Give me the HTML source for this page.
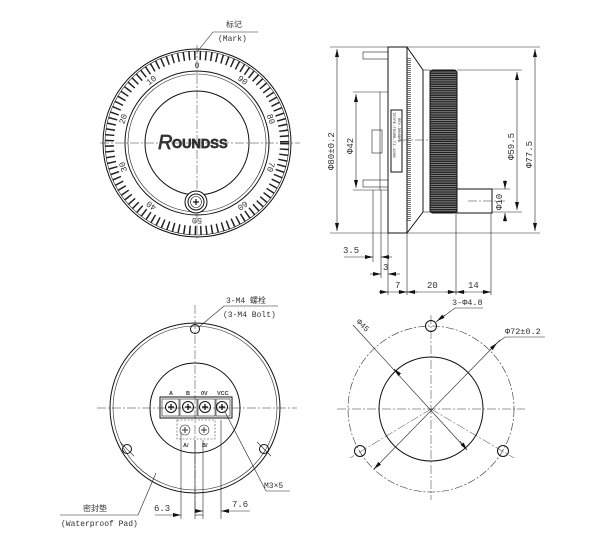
<!DOCTYPE html>
<html><head><meta charset="utf-8"><style>
html,body{margin:0;padding:0;background:#fff}
svg{display:block;font-family:"Liberation Mono","Noto Sans CJK SC",monospace;font-size:8px}
text{fill:#333}
.l{stroke:#111;fill:none;stroke-width:1}
.t{stroke:#222;fill:none;stroke-width:0.6}
.c{stroke:#333;fill:none;stroke-width:0.5;stroke-dasharray:9 2 2 2}
</style></head><body>
<svg width="603" height="551" viewBox="0 0 603 551" xmlns="http://www.w3.org/2000/svg">
<defs>
<marker id="a" markerWidth="8" markerHeight="4" refX="8" refY="2" orient="auto-start-reverse" markerUnits="userSpaceOnUse"><path d="M0,0 L8,2 L0,4z" fill="#111"/></marker>
<pattern id="kn" width="4" height="2.2" patternUnits="userSpaceOnUse"><rect width="4" height="2.2" fill="#222"/><rect y="1.4" width="4" height="0.6" fill="#bbb"/></pattern>
</defs>

<g>
<circle cx="197" cy="143" r="94" class="l"/>
<circle cx="197" cy="143" r="92" class="t"/>
<circle cx="197" cy="143" r="87.5" fill="none" stroke="#222" stroke-width="9" stroke-dasharray="1.5 4.03"/>
<circle cx="197" cy="143" r="72" class="l"/>
<circle cx="197" cy="143" r="69" class="t"/>
<circle cx="197" cy="143" r="52" class="l"/>
<line x1="100" y1="143" x2="300" y2="143" class="c"/>
<line x1="197" y1="45" x2="197" y2="240" class="c"/>
<g font-size="8.5">
<text x="197" y="68" text-anchor="middle" transform="rotate(0 197 143)">0</text>
<text x="197" y="68" text-anchor="middle" transform="rotate(-36 197 143)">10</text>
<text x="197" y="68" text-anchor="middle" transform="rotate(-72 197 143)">20</text>
<text x="197" y="68" text-anchor="middle" transform="rotate(-108 197 143)">30</text>
<text x="197" y="68" text-anchor="middle" transform="rotate(-144 197 143)">40</text>
<text x="197" y="68" text-anchor="middle" transform="rotate(180 197 143)">50</text>
<text x="197" y="68" text-anchor="middle" transform="rotate(144 197 143)">60</text>
<text x="197" y="68" text-anchor="middle" transform="rotate(108 197 143)">70</text>
<text x="197" y="68" text-anchor="middle" transform="rotate(72 197 143)">80</text>
<text x="197" y="68" text-anchor="middle" transform="rotate(36 197 143)">90</text>
</g>
<text x="158" y="149" font-family="Liberation Sans,sans-serif" font-size="20" fill="#fff" stroke="#333" stroke-width="0.7" font-style="italic">R</text>
<text x="172" y="148" font-family="Liberation Sans,sans-serif" font-size="13" fill="#fff" stroke="#333" stroke-width="0.7" font-weight="bold">OUNDSS</text>
<circle cx="196" cy="202" r="11" fill="#fff" stroke="#111"/>
<circle cx="196" cy="202" r="8" class="l"/>
<circle cx="196" cy="202" r="5.5" class="t"/>
<path d="M193,202h6M196,199v6" stroke="#111" stroke-width="1.2"/>
<polyline points="197,52 213,32 258,32" class="t"/>
<text x="226" y="27">标记</text>
<text x="218" y="41">(Mark)</text>
</g>

<g>
<rect x="388" y="47" width="19" height="186" class="l"/>
<path d="M380,92 h8 v98 h-8z" class="t"/>
<rect x="372" y="130" width="10" height="23" class="t"/>
<rect x="363" y="52" width="25" height="7" class="t"/>
<rect x="363" y="180" width="25" height="7" class="t"/>
<rect x="391" y="110" width="11" height="62" class="l"/>
<text transform="translate(393,112) rotate(90)" font-size="4">TEYPE:TRGMB-TI-100B</text>
<text transform="translate(398,118) rotate(90)" font-size="4">REV-DHHOMB</text>
<path d="M407,47 L423,70 L423,212 L407,233" class="l"/>
<line x1="409" y1="58" x2="409" y2="222" stroke="#222" stroke-width="4" stroke-dasharray="0.6 1.4"/>
<rect x="423" y="70" width="7" height="142" class="t"/>
<rect x="430" y="70" width="27" height="143" rx="3" fill="url(#kn)" stroke="#111"/>
<rect x="457" y="189" width="35" height="24" class="l"/>
<line x1="400" y1="140" x2="460" y2="140" class="c"/>
<line x1="468" y1="201" x2="505" y2="201" class="c"/>
<line x1="330" y1="47" x2="388" y2="47" class="t"/>
<line x1="330" y1="233" x2="388" y2="233" class="t"/>
<line x1="337" y1="49" x2="337" y2="231" class="t" marker-start="url(#a)" marker-end="url(#a)"/>
<text transform="translate(334,170) rotate(-90)" font-size="9">Φ80±0.2</text>
<line x1="353" y1="92" x2="380" y2="92" class="t"/>
<line x1="353" y1="190" x2="380" y2="190" class="t"/>
<line x1="356" y1="94" x2="356" y2="188" class="t" marker-start="url(#a)" marker-end="url(#a)"/>
<text transform="translate(353,154) rotate(-90)" font-size="9">Φ42</text>
<line x1="407" y1="47" x2="540" y2="47" class="t"/>
<line x1="407" y1="233" x2="540" y2="233" class="t"/>
<line x1="535" y1="49" x2="535" y2="231" class="t" marker-start="url(#a)" marker-end="url(#a)"/>
<text transform="translate(532,168) rotate(-90)" font-size="9">Φ77.5</text>
<line x1="457" y1="70" x2="522" y2="70" class="t"/>
<line x1="492" y1="212" x2="522" y2="212" class="t"/>
<line x1="517" y1="72" x2="517" y2="210" class="t" marker-start="url(#a)" marker-end="url(#a)"/>
<text transform="translate(514,160) rotate(-90)" font-size="9">Φ59.5</text>
<line x1="492" y1="189" x2="510" y2="189" class="t"/>
<line x1="505" y1="180" x2="505" y2="189" class="t" marker-end="url(#a)"/>
<line x1="505" y1="222" x2="505" y2="213" class="t" marker-end="url(#a)"/>
<text transform="translate(502,210) rotate(-90)" font-size="9">Φ10</text>
<line x1="373" y1="190" x2="373" y2="262" class="t"/>
<line x1="381" y1="190" x2="381" y2="278" class="t"/>
<line x1="388" y1="233" x2="388" y2="295" class="t"/>
<line x1="407" y1="233" x2="407" y2="295" class="t"/>
<line x1="456" y1="213" x2="456" y2="295" class="t"/>
<line x1="491" y1="213" x2="491" y2="295" class="t"/>
<line x1="344" y1="257" x2="373" y2="257" class="t" marker-end="url(#a)"/>
<line x1="392" y1="257" x2="381" y2="257" class="t" marker-end="url(#a)"/>
<text x="343" y="253" font-size="9">3.5</text>
<line x1="370" y1="274" x2="381" y2="274" class="t" marker-end="url(#a)"/>
<line x1="400" y1="274" x2="388" y2="274" class="t" marker-end="url(#a)"/>
<text x="383" y="270" font-size="9">3</text>
<line x1="379" y1="292" x2="491" y2="292" class="t"/>
<line x1="379" y1="292" x2="388" y2="292" class="t" marker-end="url(#a)"/>
<line x1="398" y1="292" x2="407" y2="292" class="t" marker-end="url(#a)"/>
<line x1="446" y1="292" x2="456" y2="292" class="t" marker-end="url(#a)"/>
<line x1="481" y1="292" x2="491" y2="292" class="t" marker-end="url(#a)"/>
<line x1="417" y1="292" x2="407" y2="292" class="t" marker-end="url(#a)"/>
<line x1="466" y1="292" x2="456" y2="292" class="t" marker-end="url(#a)"/>
<text x="395" y="288" font-size="9">7</text>
<text x="427" y="288" font-size="9">20</text>
<text x="468" y="288" font-size="9">14</text>
</g>

<g>
<circle cx="195" cy="408" r="85" class="l"/>
<circle cx="195" cy="408" r="82" class="t"/>
<circle cx="195" cy="408" r="45" class="l"/>
<line x1="97" y1="408" x2="297" y2="408" class="c"/>
<line x1="195" y1="305" x2="195" y2="515" class="c"/>
<circle cx="195" cy="329" r="4.5" class="l"/>
<circle cx="127" cy="449" r="4.5" class="l"/>
<circle cx="264" cy="449" r="4.5" class="l"/>
<line x1="120" y1="442" x2="134" y2="456" class="t"/>
<line x1="257" y1="442" x2="271" y2="456" class="t"/>
<rect x="160" y="397" width="72" height="21" fill="#fff" class="l"/>
<g class="t">
<rect x="162" y="399" width="17" height="17"/><rect x="180" y="399" width="17" height="17"/><rect x="198" y="399" width="17" height="17"/><rect x="216" y="399" width="14" height="17"/>
</g>
<g>
<circle cx="171" cy="407" r="5.5" class="l"/><circle cx="188" cy="407" r="5.5" class="l"/><circle cx="205" cy="407" r="5.5" class="l"/><circle cx="222" cy="407" r="5.5" class="l"/>
<path d="M168,407h6M171,404v6M185,407h6M188,404v6M202,407h6M205,404v6M219,407h6M222,404v6" stroke="#111" stroke-width="1.3"/>
</g>
<rect x="177" y="420" width="38" height="19" fill="none" stroke="#444" stroke-width="0.6" stroke-dasharray="2 1.5"/>
<circle cx="185" cy="430" r="5" class="t"/><circle cx="204" cy="430" r="5" class="t"/>
<path d="M182,430h6M185,427v6M201,430h6M204,427v6" stroke="#333" stroke-width="1"/>
<g font-size="5.5" font-family="Liberation Sans,sans-serif" font-weight="bold">
<text x="169" y="395">A</text><text x="186" y="395">B</text><text x="201" y="395">0V</text><text x="217" y="395">VCC</text>
<text x="183" y="447">A/</text><text x="202" y="447">B/</text>
</g>
<polyline points="199,327 224,306 278,306" class="t"/>
<text x="226" y="303" font-size="8">3-M4 螺栓</text>
<text x="223" y="317" font-size="8">(3-M4 Bolt)</text>
<polyline points="225,412 266,491 290,491" class="t"/>
<text x="264" y="488" font-size="8">M3×5</text>
<polyline points="156,473 138,515 60,515" class="t"/>
<text x="83" y="511" font-size="8">密封垫</text>
<text x="61" y="526" font-size="8">(Waterproof Pad)</text>
<line x1="181" y1="432" x2="181" y2="519" class="t"/>
<line x1="195" y1="440" x2="195" y2="519" class="t"/>
<line x1="203" y1="440" x2="203" y2="519" class="t"/>
<line x1="221" y1="420" x2="221" y2="519" class="t"/>
<line x1="155" y1="515" x2="181" y2="515" class="t" marker-end="url(#a)"/>
<line x1="195" y1="515" x2="203" y2="515" class="t"/>
<line x1="250" y1="511" x2="221" y2="511" class="t" marker-end="url(#a)"/>
<line x1="195" y1="511" x2="203" y2="511" class="t" marker-end="url(#a)"/>
<text x="154" y="511" font-size="9">6.3</text>
<text x="232" y="507" font-size="9">7.6</text>
</g>

<g>
<circle cx="431" cy="409" r="83" fill="none" stroke="#333" stroke-width="0.6" stroke-dasharray="8 2 2 2"/>
<circle cx="431" cy="409" r="52" class="l"/>
<line x1="337" y1="409" x2="525" y2="409" class="c"/>
<line x1="431" y1="315" x2="431" y2="500" class="c"/>
<circle cx="431" cy="326" r="5.5" class="l"/>
<circle cx="360" cy="451" r="5.5" class="l"/>
<circle cx="503" cy="451" r="5.5" class="l"/>
<line x1="431" y1="409" x2="350" y2="458" class="c"/>
<line x1="431" y1="409" x2="514" y2="458" class="c"/>
<line x1="353" y1="325" x2="467" y2="450" class="t"/>
<line x1="400" y1="375" x2="394" y2="369" class="t" marker-end="url(#a)"/>
<line x1="460" y1="441" x2="467" y2="450" class="t" marker-end="url(#a)"/>
<text transform="translate(356,322) rotate(45)" font-size="8">Φ45</text>
<line x1="374" y1="469" x2="500" y2="340" class="t"/>
<line x1="380" y1="463" x2="374" y2="469" class="t" marker-end="url(#a)"/>
<line x1="490" y1="350" x2="497" y2="343" class="t" marker-end="url(#a)"/>
<polyline points="497,343 505,337 545,337" class="t"/>
<text x="505" y="334" font-size="8.5">Φ72±0.2</text>
<polyline points="436,322 455,308 483,308" class="t"/>
<line x1="445" y1="315" x2="437" y2="321" class="t" marker-end="url(#a)"/>
<text x="452" y="305" font-size="8.5">3-Φ4.8</text>
</g>
</svg>
</body></html>
